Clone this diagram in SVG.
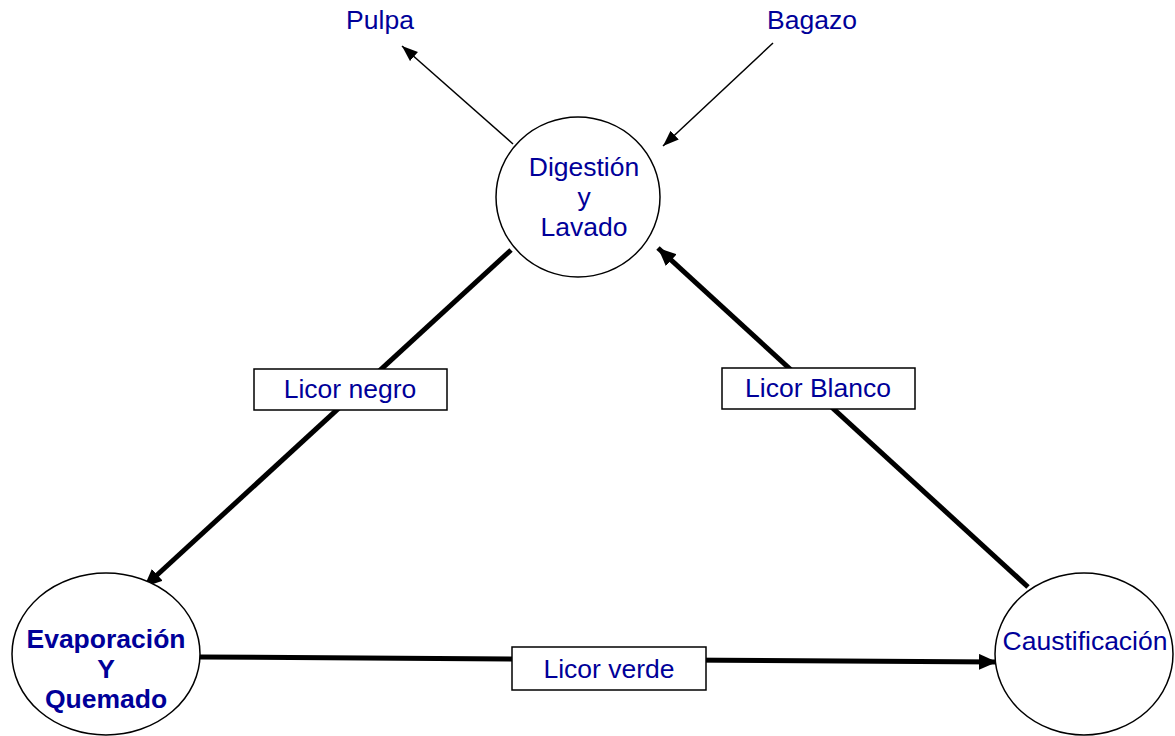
<svg xmlns="http://www.w3.org/2000/svg" width="1175" height="736" viewBox="0 0 1175 736">
<style>
.t{font-family:"Liberation Sans",Arial,sans-serif;font-size:26.5px;fill:#000099;text-anchor:middle}
.b{font-weight:bold}
.n{fill:#fff;stroke:#000;stroke-width:1.5}
.thin{stroke:#000;stroke-width:1.5;fill:none}
.thick{stroke:#000;stroke-width:5;fill:none}
</style>
<defs>
<marker id="ah" markerUnits="userSpaceOnUse" markerWidth="22" markerHeight="20" refX="18" refY="8" orient="auto">
<path d="M0,0 L18,8 L0,16 Z" fill="#000"/>
</marker>
<marker id="as" markerUnits="userSpaceOnUse" markerWidth="20" markerHeight="16" refX="16" refY="6" orient="auto">
<path d="M0,0 L16,6 L0,12 Z" fill="#000"/>
</marker>
</defs>
<g id="connectors">
<line class="thin" x1="513" y1="144" x2="402" y2="46" marker-end="url(#as)"/>
<line class="thin" x1="773" y1="43" x2="663" y2="146" marker-end="url(#as)"/>
<line class="thick" x1="511" y1="250" x2="144" y2="587" marker-end="url(#ah)"/>
<line class="thick" x1="1028" y1="587" x2="658" y2="248" marker-end="url(#ah)"/>
<line class="thick" x1="200" y1="657" x2="997" y2="662" marker-end="url(#ah)"/>
</g>
<g id="label-negro">
<rect class="n" x="254" y="369" width="193" height="41"/>
<text class="t" x="350" y="398">Licor negro</text>
</g>
<g id="label-blanco">
<rect class="n" x="722" y="368" width="193" height="41"/>
<text class="t" x="818" y="397">Licor Blanco</text>
</g>
<g id="label-verde">
<rect class="n" x="512" y="647" width="194" height="43"/>
<text class="t" x="609" y="678">Licor verde</text>
</g>
<g id="digestion">
<ellipse class="n" cx="578" cy="197" rx="82" ry="80"/>
<text class="t" x="584" y="176">Digestión</text>
<text class="t" x="584" y="206">y</text>
<text class="t" x="584" y="236">Lavado</text>
</g>
<g id="evaporacion">
<ellipse class="n" cx="106" cy="654" rx="94" ry="81"/>
<text class="t b" x="106" y="648">Evaporación</text>
<text class="t b" x="106" y="678">Y</text>
<text class="t b" x="106" y="708">Quemado</text>
</g>
<g id="caustificacion">
<ellipse class="n" cx="1084" cy="654" rx="89" ry="81"/>
<text class="t" x="1085" y="650">Caustificación</text>
</g>
<g id="pulpa"><text class="t" x="380" y="29">Pulpa</text></g>
<g id="bagazo"><text class="t" x="812" y="29">Bagazo</text></g>
</svg>
